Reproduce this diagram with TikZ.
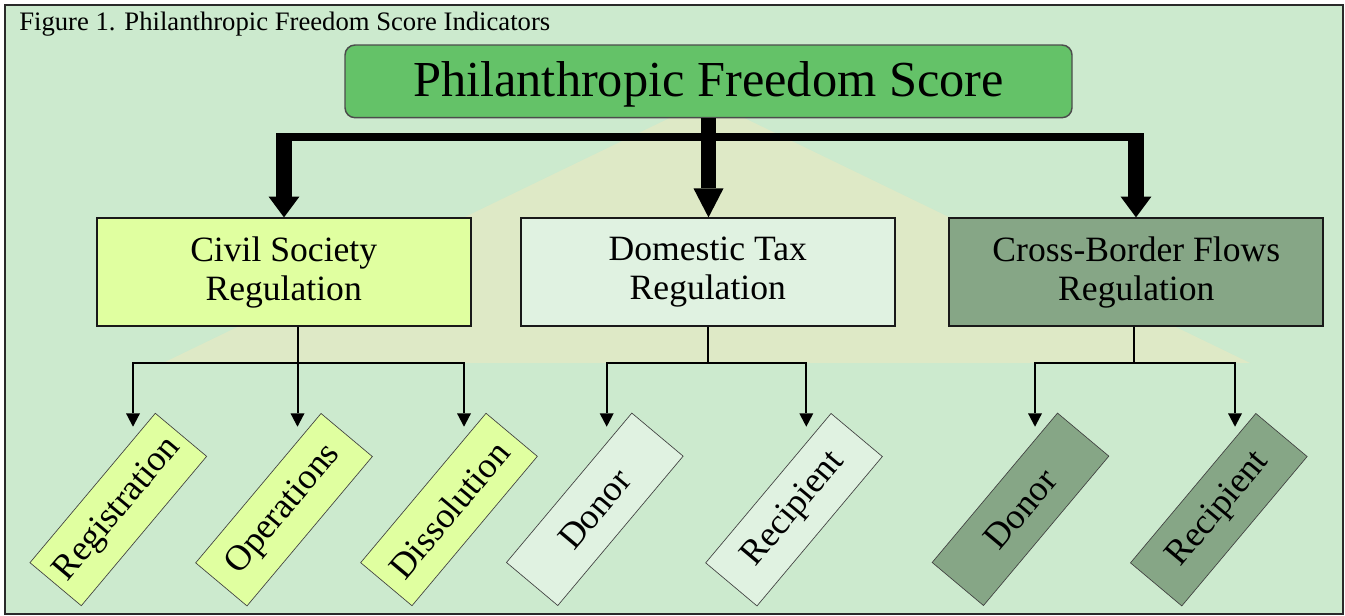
\documentclass[tikz,border=0pt]{standalone}
\usepackage{fontspec}
\setmainfont{Liberation Serif}
\usetikzlibrary{arrows.meta}
\definecolor{bggreen}{HTML}{CCEACE}
\definecolor{trifill}{HTML}{DEE9C6}
\definecolor{mainfill}{HTML}{64C268}
\definecolor{civfill}{HTML}{E0FFA0}
\definecolor{domfill}{HTML}{E0F2E1}
\definecolor{crossfill}{HTML}{86A686}
\definecolor{framecol}{HTML}{2A2A2A}
\begin{document}
\begin{tikzpicture}[x=0.75pt,y=-0.75pt,
  mainbox/.style={draw=black!70, line width=1.1pt, rounded corners=7.5pt, fill=mainfill,
    minimum width=545.25pt, minimum height=54.5pt, inner sep=0pt,
    font=\fontsize{37.8}{45}\selectfont, text height=25.5pt, text depth=2.5pt},
  catbox/.style={draw=black!90, line width=1.4pt, minimum width=280.5pt, minimum height=80.8pt,
    inner sep=0pt, align=center, font=\fontsize{26.7}{29}\selectfont},
  leafbox/.style={draw=black!75, line width=0.5pt, rotate=50, minimum width=146.25pt,
    minimum height=50.25pt, inner sep=0pt, font=\fontsize{27}{30}\selectfont},
  bigarrow/.style={line width=11.5pt, -{Triangle[width=23pt,length=15.5pt,line width=0pt]}},
  midarrow/.style={line width=11pt, -{Triangle[width=22.5pt,length=21.75pt,line width=0pt]}},
  barline/.style={line width=5.5pt},
  smallarrow/.style={line width=1.5pt, -{Triangle[width=10.5pt,length=10pt,line width=0pt]}},
  smallline/.style={line width=1.5pt},
  captext/.style={anchor=base west, inner sep=0pt, font=\fontsize{20}{23}\selectfont}
]
\useasboundingbox (0,0) rectangle (1345,616);
\fill[white] (0,0) rectangle (1345,616);
\filldraw[fill=bggreen, draw=framecol, line width=1.5pt] (5,5) rectangle (1343.3,614.3);
\fill[trifill] (707,100) -- (1250,363) -- (163,363) -- cycle;

\node[captext] (cap) at (19,31) {Figure 1. Philanthropic Freedom Score Indicators};

\node[mainbox] (main) at (708.5,81.35) {Philanthropic Freedom Score};

\node[catbox, fill=civfill] (civ) at (283.7,272.2) {Civil Society\\Regulation};
\node[catbox, fill=domfill] (dom) at (707.8,272.2) {Domestic Tax\\Regulation};
\node[catbox, fill=crossfill] (cbf) at (1136.3,272.2) {Cross-Border Flows\\Regulation};

\node[leafbox, fill=civfill] (reg) at (118.3,509.5) {Registration};
\node[leafbox, fill=civfill] (ops) at (284,509.7) {Operations};
\node[leafbox, fill=civfill] (dis) at (449,509.5) {Dissolution};
\node[leafbox, fill=domfill] (ddon) at (594.8,509.3) {Donor};
\node[leafbox, fill=domfill] (drec) at (794,509.7) {Recipient};
\node[leafbox, fill=crossfill] (cdon) at (1020.5,509.3) {Donor};
\node[leafbox, fill=crossfill] (crec) at (1218.8,509.7) {Recipient};

% thick connectors
\coordinate (barL) at (284,133.3);
\coordinate (barR) at (1136,133.3);
\coordinate (bl) at (276,137);
\coordinate (br) at (1144,137);
\draw[barline] (bl) -- (br);
\draw[bigarrow] (barL) -- (barL |- civ.north);
\draw[bigarrow] (barR) -- (barR |- cbf.north);
\draw[midarrow] (main.south) -- (main.south |- dom.north);

% thin connectors
\coordinate (civJ) at (297.5,363);
\coordinate (domJ) at (707.7,363);
\coordinate (cbfJ) at (1134.3,363);
\coordinate (regIn) at (133,426.7);
\coordinate (opsIn) at (297.5,426.7);
\coordinate (disIn) at (464,426.7);
\coordinate (ddonIn) at (606.7,426.7);
\coordinate (drecIn) at (806.3,426.7);
\coordinate (cdonIn) at (1035,426.7);
\coordinate (crecIn) at (1235,426.7);

\draw[smallarrow] (civ.south -| civJ) -- (opsIn);
\draw[smallarrow] (civJ) -| (regIn);
\draw[smallarrow] (civJ) -| (disIn);

\draw[smallline] (dom.south -| domJ) -- (domJ);
\draw[smallarrow] (domJ) -| (ddonIn);
\draw[smallarrow] (domJ) -| (drecIn);

\draw[smallline] (cbf.south -| cbfJ) -- (cbfJ);
\draw[smallarrow] (cbfJ) -| (cdonIn);
\draw[smallarrow] (cbfJ) -| (crecIn);
\end{tikzpicture}
\end{document}
